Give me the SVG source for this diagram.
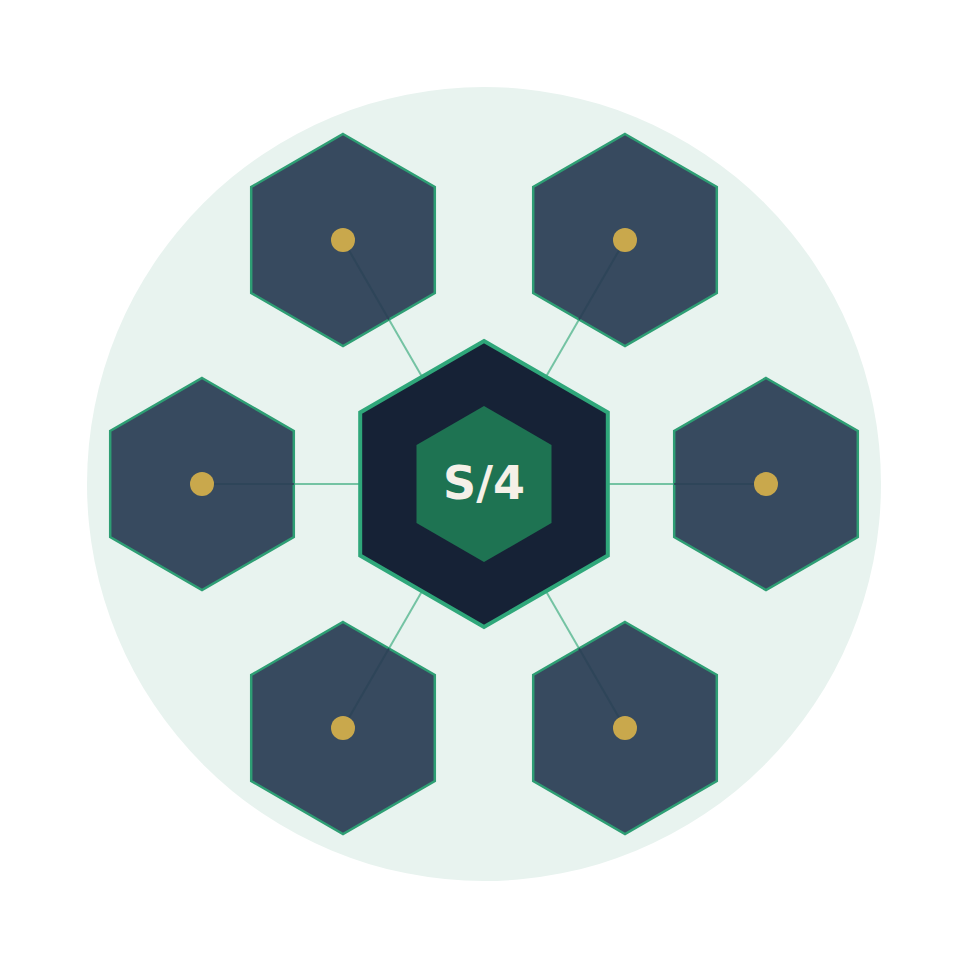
<svg xmlns="http://www.w3.org/2000/svg" width="969" height="969" viewBox="0 0 969 969">
<style>
.sat{fill:#374a5f;stroke:#2e9e74;stroke-width:2.5}
.dot{fill:#c9a84c}
.ln{stroke:#74c3a3;stroke-width:2}
.lnd{stroke:#2e4559;stroke-width:2}
</style>
<defs>
<polygon id="hexS" points="0,-106 91.8,-53 91.8,53 0,106 -91.8,53 -91.8,-53"/>
</defs>
<rect width="969" height="969" fill="#ffffff"/>
<circle cx="484" cy="484" r="397" fill="#e8f3ef"/>
<g id="connectors-under">
<line class="ln" x1="484" y1="484" x2="343" y2="240"/>
<line class="ln" x1="484" y1="484" x2="625" y2="240"/>
<line class="ln" x1="484" y1="484" x2="202" y2="484"/>
<line class="ln" x1="484" y1="484" x2="766" y2="484"/>
<line class="ln" x1="484" y1="484" x2="343" y2="728"/>
<line class="ln" x1="484" y1="484" x2="625" y2="728"/>
</g>
<g id="sat-tl"><use href="#hexS" class="sat" x="343" y="240"/></g>
<g id="sat-tr"><use href="#hexS" class="sat" x="625" y="240"/></g>
<g id="sat-l"><use href="#hexS" class="sat" x="202" y="484"/></g>
<g id="sat-r"><use href="#hexS" class="sat" x="766" y="484"/></g>
<g id="sat-bl"><use href="#hexS" class="sat" x="343" y="728"/></g>
<g id="sat-br"><use href="#hexS" class="sat" x="625" y="728"/></g>
<g id="connectors-over">
<line class="lnd" x1="343" y1="240" x2="388.9" y2="319.5"/>
<line class="lnd" x1="625" y1="240" x2="579.1" y2="319.5"/>
<line class="lnd" x1="202" y1="484" x2="293.8" y2="484"/>
<line class="lnd" x1="766" y1="484" x2="674.2" y2="484"/>
<line class="lnd" x1="343" y1="728" x2="388.9" y2="648.5"/>
<line class="lnd" x1="625" y1="728" x2="579.1" y2="648.5"/>
</g>
<g id="dots">
<circle class="dot" cx="343" cy="240" r="12"/>
<circle class="dot" cx="625" cy="240" r="12"/>
<circle class="dot" cx="202" cy="484" r="12"/>
<circle class="dot" cx="766" cy="484" r="12"/>
<circle class="dot" cx="343" cy="728" r="12"/>
<circle class="dot" cx="625" cy="728" r="12"/>
</g>
<g id="center">
<polygon points="484,341 607.8,412.5 607.8,555.5 484,627 360.2,555.5 360.2,412.5" fill="#162236" stroke="#2fa77a" stroke-width="4"/>
<polygon points="484,406 551.5,445 551.5,523 484,562 416.5,523 416.5,445" fill="#1e7352"/>
<text x="484" y="499" text-anchor="middle" font-family="'DejaVu Sans', sans-serif" font-weight="bold" font-size="46" fill="#f5f0e8">S/4</text>
</g>
</svg>
